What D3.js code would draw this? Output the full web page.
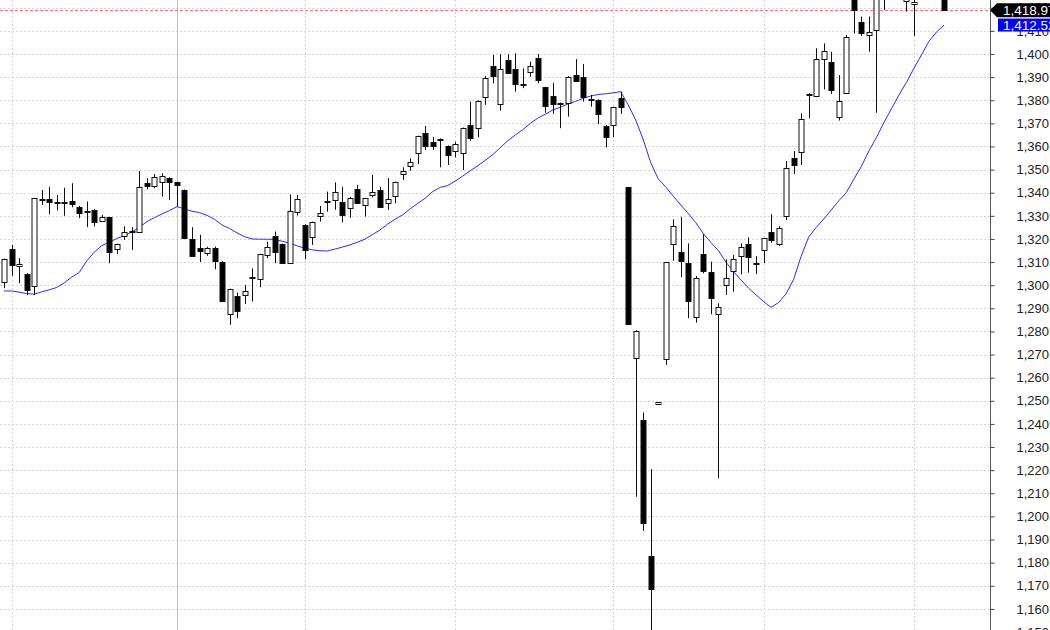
<!DOCTYPE html>
<html>
<head>
<meta charset="utf-8">
<script src="https://cdn.jsdelivr.net/npm/d3@7"></script>
<style>
  html, body { margin: 0; padding: 0; background: #fff; }
  svg { display: block; font-family: "Liberation Sans", Arial, sans-serif; }
</style>
</head>
<body>
<svg id="chart" width="1050" height="630"></svg>
<script>
// ---- data ----
const opens = [1301.3,1315.7,1308.4,1304.8,1299.7,1336.9,1337.3,1336.2,1336.0,1336.6,
1333.7,1331.9,1332.6,1328.0,1329.4,1315.6,1321.2,1323.4,1323.1,1344.1,
1342.6,1344.5,1346.4,1344.5,1341.1,1319.9,1316.3,1314.1,1316.3,1310.2,
1287.5,1295.5,1295.5,1303.3,1302.6,1313.1,1321.3,1317.7,1309.8,1331.8,
1326.1,1320.6,1330.0,1336.2,1336.9,1336.2,1333.7,1341.5,1334.7,1339.0,
1341.2,1335.4,1338.3,1347.9,1351.6,1357.0,1365.7,1361.8,1363.2,1360.2,
1358.0,1357.3,1369.3,1367.9,1381.3,1394.8,1378.2,1397.4,1393.7,1387.0,
1392.4,1398.1,1385.6,1382.0,1378.8,1379.0,1390.9,1389.9,1380.4,1380.1,
1368.9,1368.9,1380.8,1342.3,1268.8,1241.7,1183.0,1248.6,1267.9,1317.8,
1314.2,1309.7,1286.1,1313.4,1305.6,1287.5,1300.1,1306.3,1312.6,1317.8,
1309.8,1315.2,1323.2,1317.8,1329.9,1355.2,1357.5,1382.3,1381.8,1397.7,
1396.4,1372.6,1383.3,1427.0,1414.0,1408.6,1410.7,1428.0,1431.0,1434.0,
1423.2,1421.6,1426.0,1430.5,1432.0,1428.5];
const highs = [1311.5,1317.4,1311.7,1305.2,1337.8,1341.2,1342.6,1339.0,1342.2,1344.1,
1334.3,1336.2,1332.9,1330.4,1329.6,1318.0,1325.5,1325.1,1349.4,1346.3,
1348.1,1348.4,1346.7,1344.8,1341.4,1325.1,1321.8,1316.6,1316.7,1310.4,
1298.5,1296.8,1300.1,1307.3,1313.6,1318.9,1323.2,1318.0,1339.3,1339.0,
1326.4,1327.5,1334.3,1340.5,1344.5,1342.6,1338.2,1343.4,1337.8,1347.7,
1342.6,1346.3,1344.8,1351.0,1354.9,1364.7,1368.9,1364.2,1363.5,1360.5,
1362.1,1368.2,1379.4,1380.0,1390.5,1399.6,1399.9,1399.9,1400.3,1393.8,
1396.7,1400.0,1385.8,1387.6,1379.0,1390.4,1397.8,1395.7,1382.3,1380.4,
1369.2,1377.2,1383.7,1342.5,1280.5,1245.0,1220.4,1249.5,1310.1,1328.5,
1329.6,1318.1,1304.0,1322.0,1310.2,1292.2,1311.2,1313.1,1318.1,1320.7,
1312.6,1320.5,1330.7,1325.6,1353.7,1358.0,1374.3,1383.0,1402.5,1404.6,
1401.0,1390.9,1408.2,1429.0,1416.2,1416.2,1429.0,1433.0,1437.0,1438.0,
1433.0,1426.0,1433.0,1436.0,1436.0,1430.0];
const lows = [1298.7,1304.0,1300.9,1295.7,1295.7,1334.7,1330.7,1332.3,1330.0,1333.7,
1329.0,1325.1,1325.4,1327.5,1309.5,1313.4,1319.6,1315.3,1322.8,1341.5,
1341.9,1338.3,1336.9,1334.0,1320.2,1312.5,1310.0,1312.7,1306.9,1293.0,
1282.9,1285.7,1291.9,1292.9,1299.1,1311.7,1309.5,1309.3,1309.5,1330.1,
1311.2,1317.4,1327.5,1331.8,1332.6,1327.2,1329.2,1335.2,1329.7,1338.0,
1333.8,1332.6,1335.4,1345.5,1349.5,1352.4,1358.5,1358.5,1351.0,1352.0,
1355.3,1349.8,1362.5,1364.0,1378.0,1387.3,1375.5,1391.7,1383.7,1385.2,
1390.2,1387.3,1374.6,1374.1,1367.9,1372.9,1388.3,1379.4,1377.2,1369.7,
1359.6,1364.0,1374.1,1282.9,1208.5,1193.7,1148.0,1248.4,1265.5,1310.6,
1303.4,1285.7,1283.8,1305.1,1287.4,1216.5,1295.8,1297.2,1304.7,1305.4,
1304.8,1309.5,1318.4,1317.0,1328.2,1348.1,1352.0,1372.2,1381.3,1384.7,
1382.7,1371.2,1383.1,1408.9,1407.8,1401.0,1374.6,1419.0,1426.0,1427.0,
1418.3,1407.8,1425.0,1426.0,1427.0,1418.9];
const closes = [1311.2,1308.8,1309.1,1297.7,1337.6,1337.2,1336.2,1336.0,1336.2,1335.4,
1331.1,1331.8,1327.4,1329.7,1314.1,1317.7,1323.1,1323.6,1342.4,1342.6,
1346.7,1347.1,1344.5,1343.1,1320.5,1312.7,1315.0,1316.3,1310.8,1293.2,
1298.3,1289.0,1297.3,1303.4,1313.4,1316.7,1314.5,1309.5,1332.3,1337.5,
1315.3,1327.2,1331.4,1336.3,1340.5,1330.7,1337.9,1335.4,1337.6,1340.5,
1334.0,1337.2,1344.5,1349.4,1353.4,1364.5,1360.2,1360.2,1363.0,1356.3,
1361.1,1367.9,1363.5,1379.7,1389.5,1390.6,1393.4,1391.9,1387.3,1387.1,
1394.8,1388.5,1377.5,1378.7,1378.6,1390.2,1388.5,1381.3,1380.3,1374.1,
1364.0,1376.9,1376.8,1283.1,1280.3,1197.3,1168.6,1249.3,1309.9,1325.8,
1310.2,1293.2,1303.0,1306.1,1294.3,1290.4,1303.0,1311.3,1316.7,1312.1,
1309.7,1320.3,1319.6,1324.6,1350.8,1352.0,1371.9,1382.5,1397.7,1401.3,
1384.2,1379.7,1407.5,1419.0,1409.4,1409.7,1426.5,1431.0,1434.0,1429.0,
1429.5,1422.6,1430.5,1432.0,1429.0,1418.97];
const ma = [1297.5,1297.5,1297,1296.4,1296.1,1297.1,1298,1299,1301,1303.5,
1305.5,1310.5,1314.3,1317.1,1318.6,1320.2,1321.4,1323,1325,1327.5,
1329.2,1330.8,1332.3,1334,1333,1332,1331.4,1330.2,1328.5,1326,
1324.5,1322.6,1321,1320,1319.9,1319.9,1319.8,1319,1318.2,1317,
1316,1315.3,1314.9,1314.8,1315.6,1316.5,1317.4,1318.6,1319.9,1321.9,
1323.9,1326.4,1328.5,1330.4,1333,1335.3,1337.6,1340.5,1342.3,1343.1,
1345,1347.2,1349.5,1351.7,1354,1356.5,1359.5,1362.5,1365,1367.3,
1370,1372.3,1374,1375.8,1377,1378.4,1379.5,1380.8,1381.8,1382.5,
1382.8,1383.2,1383.7,1378,1371.5,1363,1353,1346,1342.5,1338.5,
1334.7,1331,1327,1322.3,1318.5,1315,1310,1305.9,1302.3,1298.8,
1295.8,1293,1290.4,1292.5,1296.3,1302.5,1312.5,1320.8,1325,1328.6,
1332.5,1336.5,1340,1345.8,1351.3,1358,1363.8,1370.3,1376.3,1382.2,
1387.7,1393.8,1399.6,1405.5,1409.5,1412.52];
const yTicks = [1150,1160,1170,1180,1190,1200,1210,1220,1230,1240,1250,1260,1270,
1280,1290,1300,1310,1320,1330,1340,1350,1360,1370,1380,1390,1400,1410,1420];
const monthGrid = [1,23,40,60,81,101,121];   // candle indexes of vertical grid lines
const yearGrid = [23];                        // solid separator
const lastClose = 1418.97;
const lastMA = 1412.52;

// ---- scales ----
const svg = d3.select("#chart");
const plotRight = 990, H = 630;
const idx = d3.range(closes.length);
const x = d3.scaleLinear().domain([0, closes.length - 1]).range([4, 944]);
const y = d3.scaleLinear().domain([1150, 1400]).range([632, 54]);
const fmt = d3.format(",");
const fmt2 = d3.format(",.2f");

svg.append("defs").append("clipPath").attr("id", "plot")
  .append("rect").attr("x", 0).attr("y", 0).attr("width", plotRight).attr("height", H);

// horizontal grid
svg.append("g").selectAll("line").data(yTicks).join("line")
  .attr("x1", 0).attr("x2", plotRight)
  .attr("y1", d => Math.round(y(d)) + 0.5).attr("y2", d => Math.round(y(d)) + 0.5)
  .attr("stroke", "#d6d6d6").attr("stroke-dasharray", "2,2");

// vertical grid
svg.append("g").selectAll("line").data(monthGrid).join("line")
  .attr("x1", d => Math.round(x(d)) + 0.5).attr("x2", d => Math.round(x(d)) + 0.5)
  .attr("y1", 0).attr("y2", H)
  .attr("stroke", d => yearGrid.includes(d) ? "#c4c4c4" : "#d6d6d6")
  .attr("stroke-dasharray", d => yearGrid.includes(d) ? null : "2,2");

// last-close dashed red line
svg.append("line")
  .attr("x1", 0).attr("x2", plotRight)
  .attr("y1", Math.round(y(lastClose)) + 0.5).attr("y2", Math.round(y(lastClose)) + 0.5)
  .attr("stroke", "#ff7070").attr("stroke-dasharray", "3,2");

const plot = svg.append("g").attr("clip-path", "url(#plot)");

// moving average
plot.append("path")
  .datum(idx)
  .attr("fill", "none").attr("stroke", "#2a2aff").attr("stroke-width", 1)
  .attr("d", d3.line().x(i => x(i)).y(i => y(ma[i])));

// candles
const cg = plot.append("g").selectAll("g").data(idx).join("g");
const cx = i => Math.round(x(i)) + 0.5;
cg.append("line")
  .attr("x1", cx).attr("x2", cx)
  .attr("y1", i => y(highs[i])).attr("y2", i => y(lows[i]))
  .attr("stroke", "#111").attr("stroke-width", 1);
cg.append("rect")
  .attr("x", i => cx(i) - 2.5)
  .attr("width", 5)
  .attr("y", i => Math.round(y(Math.max(opens[i], closes[i]))) + 0.5)
  .attr("height", i => Math.max(1, Math.round(Math.abs(y(opens[i]) - y(closes[i])))))
  .attr("fill", i => closes[i] >= opens[i] ? "#fff" : "#000")
  .attr("stroke", "#111").attr("stroke-width", 1);

// right axis
const ax = svg.append("g").attr("transform", `translate(${plotRight + 0.5},0)`)
  .call(d3.axisRight(y).tickValues(yTicks).tickSize(4).tickSizeOuter(0).tickFormat(fmt));
ax.select(".domain").remove();
ax.selectAll(".tick line").attr("stroke", "#444");
ax.selectAll(".tick text").attr("x", 26).attr("font-size", 13)
  .attr("font-family", "'Liberation Sans', Arial, sans-serif").attr("fill", "#222");
svg.append("line").attr("x1", plotRight + 0.5).attr("x2", plotRight + 0.5)
  .attr("y1", 0).attr("y2", H).attr("stroke", "#555");

// last close label (black with arrow)
const yc = y(lastClose);
svg.append("path")
  .attr("d", `M${plotRight},${yc} L${plotRight + 7},${yc - 7} L1050,${yc - 7} L1050,${yc + 7} L${plotRight + 7},${yc + 7} Z`)
  .attr("fill", "#000");
svg.append("text").attr("x", 1003).attr("y", yc).attr("dy", "0.35em")
  .attr("font-size", 13.5).attr("fill", "#fff").text(fmt2(lastClose));

// MA label (blue)
const ym = y(lastMA);
svg.append("rect").attr("x", 998).attr("y", ym - 6.5).attr("width", 60).attr("height", 13)
  .attr("fill", "#0000ff");
svg.append("text").attr("x", 1003).attr("y", ym).attr("dy", "0.35em")
  .attr("font-size", 13.5).attr("fill", "#fff").text(fmt2(lastMA));
</script>
</body>
</html>
